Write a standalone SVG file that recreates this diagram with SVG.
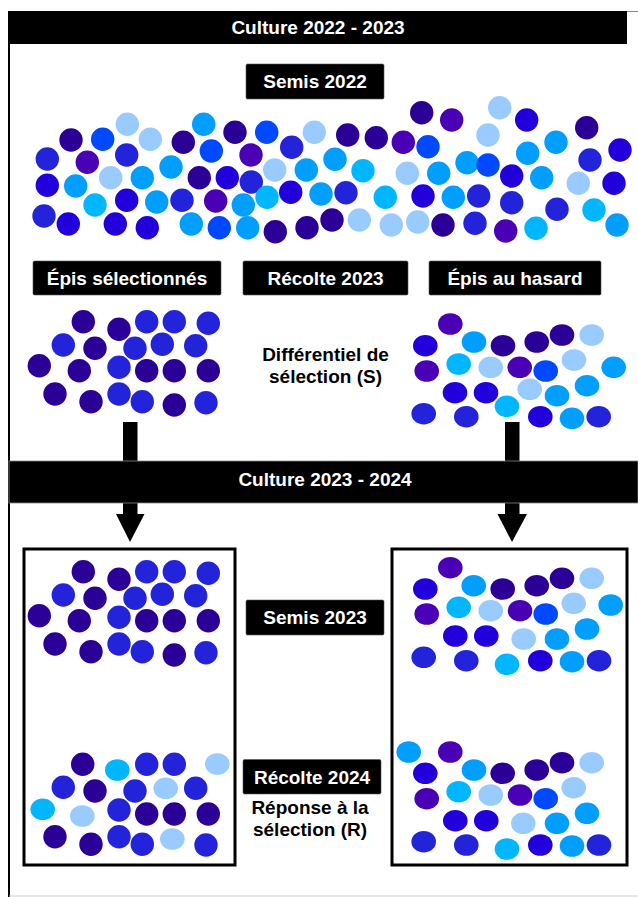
<svg xmlns="http://www.w3.org/2000/svg" width="638" height="897" viewBox="0 0 638 897">
<style>
.k{fill:#2b0096}.p{fill:#4a00b4}.v{fill:#2323da}.r{fill:#2100dc}.m{fill:#0049ff}.a{fill:#009fff}.c{fill:#00b7ff}.l{fill:#9acbff}
.t{font-family:"Liberation Sans",Arial,sans-serif;font-weight:bold;font-size:19px;text-anchor:middle}
.w{fill:#fff}.b{fill:#000}
.lab{fill:#000;stroke:#555;stroke-width:0.6}
.box{fill:none;stroke:#000;stroke-width:3}
</style>
<rect width="638" height="897" fill="#fff"/>
<g id="frame">
<line x1="9" y1="11" x2="9" y2="897" stroke="#000" stroke-width="2"/>
<line x1="9" y1="11.5" x2="638" y2="11.5" stroke="#888" stroke-width="1"/>
<line x1="9" y1="896" x2="638" y2="896" stroke="#ccc" stroke-width="1"/>
</g>
<g id="banner-2022-2023">
<rect x="9" y="11" width="618" height="33" fill="#000"/>
<text class="t w" x="318" y="34">Culture 2022 - 2023</text>
</g>
<g id="label-semis-2022">
<rect class="lab" x="246" y="64" width="138" height="35" rx="1.5"/>
<text class="t w" x="315" y="88">Semis 2022</text>
</g>
<g id="field-semis-2022">
<circle class="l" cx="127.3" cy="124.3" r="11.7"/>
<circle class="k" cx="71" cy="140" r="11.7"/>
<circle class="m" cx="102.7" cy="139.3" r="11.7"/>
<circle class="l" cx="150.3" cy="139.3" r="11.7"/>
<circle class="a" cx="203.7" cy="124.3" r="11.7"/>
<circle class="k" cx="183.3" cy="142.3" r="11.7"/>
<circle class="k" cx="235" cy="132.3" r="11.7"/>
<circle class="m" cx="266.7" cy="132.3" r="11.7"/>
<circle class="l" cx="314.3" cy="132.3" r="11.7"/>
<circle class="v" cx="47.3" cy="159" r="11.7"/>
<circle class="p" cx="87.3" cy="162.3" r="11.7"/>
<circle class="v" cx="126.7" cy="155" r="11.7"/>
<circle class="m" cx="211.3" cy="151" r="11.7"/>
<circle class="p" cx="251" cy="155" r="11.7"/>
<circle class="v" cx="291.7" cy="147.3" r="11.7"/>
<circle class="a" cx="171" cy="167" r="11.7"/>
<circle class="l" cx="110.7" cy="177.7" r="11.7"/>
<circle class="a" cx="142.3" cy="177.7" r="11.7"/>
<circle class="k" cx="199.3" cy="177.7" r="11.7"/>
<circle class="r" cx="227.3" cy="177.7" r="11.7"/>
<circle class="v" cx="251.3" cy="182" r="11.7"/>
<circle class="l" cx="274.7" cy="170" r="11.7"/>
<circle class="a" cx="306.3" cy="170" r="11.7"/>
<circle class="a" cx="335" cy="159.3" r="11.7"/>
<circle class="r" cx="47.3" cy="185.3" r="11.7"/>
<circle class="a" cx="75.7" cy="186" r="11.7"/>
<circle class="c" cx="95" cy="205" r="11.7"/>
<circle class="r" cx="126.7" cy="200.3" r="11.7"/>
<circle class="a" cx="156.7" cy="202" r="11.7"/>
<circle class="v" cx="182" cy="200.3" r="11.7"/>
<circle class="p" cx="215.7" cy="201" r="11.7"/>
<circle class="a" cx="243.3" cy="205" r="11.7"/>
<circle class="c" cx="267" cy="197.3" r="11.7"/>
<circle class="r" cx="290.7" cy="192.3" r="11.7"/>
<circle class="a" cx="321" cy="194" r="11.7"/>
<circle class="v" cx="44" cy="216" r="11.7"/>
<circle class="r" cx="68.3" cy="224" r="11.7"/>
<circle class="r" cx="115.3" cy="224" r="11.7"/>
<circle class="r" cx="147.3" cy="227.7" r="11.7"/>
<circle class="a" cx="191.3" cy="224" r="11.7"/>
<circle class="m" cx="219.3" cy="227.7" r="11.7"/>
<circle class="a" cx="247.7" cy="227.7" r="11.7"/>
<circle class="k" cx="275.3" cy="231.7" r="11.7"/>
<circle class="k" cx="307" cy="227.7" r="11.7"/>
<circle class="k" cx="332" cy="220" r="11.7"/>
<circle class="k" cx="421.7" cy="112.7" r="11.7"/>
<circle class="p" cx="451.7" cy="120" r="11.7"/>
<circle class="l" cx="499.7" cy="107.7" r="11.7"/>
<circle class="r" cx="526.7" cy="120" r="11.7"/>
<circle class="k" cx="586.7" cy="127.7" r="11.7"/>
<circle class="k" cx="347.7" cy="135" r="11.7"/>
<circle class="k" cx="376.3" cy="137.7" r="11.7"/>
<circle class="p" cx="403.3" cy="142.3" r="11.7"/>
<circle class="m" cx="428" cy="146.7" r="11.7"/>
<circle class="l" cx="488" cy="135" r="11.7"/>
<circle class="a" cx="556" cy="142.3" r="11.7"/>
<circle class="r" cx="620" cy="150" r="11.7"/>
<circle class="c" cx="363" cy="170.7" r="11.7"/>
<circle class="l" cx="407.3" cy="173.3" r="11.7"/>
<circle class="a" cx="438.7" cy="173.3" r="11.7"/>
<circle class="a" cx="467" cy="162.7" r="11.7"/>
<circle class="m" cx="488" cy="165" r="11.7"/>
<circle class="a" cx="527.7" cy="153.3" r="11.7"/>
<circle class="r" cx="511.7" cy="176" r="11.7"/>
<circle class="a" cx="541.7" cy="177.7" r="11.7"/>
<circle class="v" cx="590" cy="160" r="11.7"/>
<circle class="l" cx="578.3" cy="183.3" r="11.7"/>
<circle class="r" cx="614" cy="183.3" r="11.7"/>
<circle class="v" cx="346" cy="192.7" r="11.7"/>
<circle class="c" cx="385.3" cy="197.3" r="11.7"/>
<circle class="r" cx="423" cy="196" r="11.7"/>
<circle class="a" cx="453.3" cy="197.3" r="11.7"/>
<circle class="v" cx="478.7" cy="196" r="11.7"/>
<circle class="v" cx="511.7" cy="202.7" r="11.7"/>
<circle class="v" cx="557" cy="209.3" r="11.7"/>
<circle class="c" cx="594" cy="210" r="11.7"/>
<circle class="a" cx="617" cy="225" r="11.7"/>
<circle class="l" cx="359.3" cy="220" r="11.7"/>
<circle class="l" cx="391.3" cy="225" r="11.7"/>
<circle class="l" cx="417.7" cy="222" r="11.7"/>
<circle class="k" cx="443" cy="225" r="11.7"/>
<circle class="v" cx="475" cy="223.3" r="11.7"/>
<circle class="p" cx="505.7" cy="231" r="11.7"/>
<circle class="c" cx="536" cy="228.3" r="11.7"/>
</g>
<g id="label-epis-selectionnes">
<rect class="lab" x="33" y="261" width="188" height="34" rx="1.5"/>
<text class="t w" x="127" y="285">Épis sélectionnés</text>
</g>
<g id="label-recolte-2023">
<rect class="lab" x="243" y="261" width="165" height="34" rx="1.5"/>
<text class="t w" x="325.5" y="285">Récolte 2023</text>
</g>
<g id="label-epis-hasard">
<rect class="lab" x="429" y="261" width="172" height="34" rx="1.5"/>
<text class="t w" x="515" y="285">Épis au hasard</text>
</g>
<g id="cluster-selected">
<circle class="k" cx="83.3" cy="321.7" r="11.7"/>
<circle class="k" cx="119" cy="329.3" r="11.7"/>
<circle class="v" cx="146.7" cy="321.7" r="11.7"/>
<circle class="v" cx="174.3" cy="321.7" r="11.7"/>
<circle class="v" cx="208.3" cy="323.3" r="11.7"/>
<circle class="v" cx="63.3" cy="345" r="11.7"/>
<circle class="k" cx="95" cy="348.3" r="11.7"/>
<circle class="v" cx="135" cy="348.3" r="11.7"/>
<circle class="v" cx="162.3" cy="344.3" r="11.7"/>
<circle class="v" cx="195.7" cy="345.7" r="11.7"/>
<circle class="k" cx="39.3" cy="365.7" r="11.7"/>
<circle class="k" cx="79.3" cy="370.7" r="11.7"/>
<circle class="v" cx="119" cy="367.3" r="11.7"/>
<circle class="k" cx="146.7" cy="370.7" r="11.7"/>
<circle class="k" cx="174.3" cy="370.7" r="11.7"/>
<circle class="k" cx="208.3" cy="370.7" r="11.7"/>
<circle class="k" cx="55" cy="394" r="11.7"/>
<circle class="k" cx="91" cy="401.7" r="11.7"/>
<circle class="v" cx="119" cy="394" r="11.7"/>
<circle class="v" cx="142.3" cy="401.7" r="11.7"/>
<circle class="k" cx="174.3" cy="405" r="11.7"/>
<circle class="v" cx="206" cy="402.7" r="11.7"/>
</g>
<g id="text-differentiel">
<text class="t b" x="325.5" y="361">Différentiel de</text>
<text class="t b" x="325.5" y="383">sélection (S)</text>
</g>
<g id="cluster-random">
<ellipse class="p" cx="450.3" cy="324" rx="12.3" ry="10.8"/>
<ellipse class="r" cx="425.3" cy="345.7" rx="12.3" ry="10.8"/>
<ellipse class="a" cx="474" cy="342" rx="12.3" ry="10.8"/>
<ellipse class="k" cx="503" cy="345.7" rx="12.3" ry="10.8"/>
<ellipse class="k" cx="536.7" cy="342" rx="12.3" ry="10.8"/>
<ellipse class="k" cx="562" cy="335" rx="12.3" ry="10.8"/>
<ellipse class="l" cx="591.7" cy="335" rx="12.3" ry="10.8"/>
<ellipse class="p" cx="426.7" cy="371" rx="12.3" ry="10.8"/>
<ellipse class="c" cx="458.7" cy="364" rx="12.3" ry="10.8"/>
<ellipse class="l" cx="490.7" cy="367.3" rx="12.3" ry="10.8"/>
<ellipse class="p" cx="519.7" cy="367.3" rx="12.3" ry="10.8"/>
<ellipse class="m" cx="545.7" cy="371" rx="12.3" ry="10.8"/>
<ellipse class="l" cx="574" cy="360" rx="12.3" ry="10.8"/>
<ellipse class="a" cx="613.7" cy="367.3" rx="12.3" ry="10.8"/>
<ellipse class="r" cx="455" cy="392.7" rx="12.3" ry="10.8"/>
<ellipse class="r" cx="486" cy="392.7" rx="12.3" ry="10.8"/>
<ellipse class="l" cx="529.7" cy="389.3" rx="12.3" ry="10.8"/>
<ellipse class="a" cx="557" cy="395.7" rx="12.3" ry="10.8"/>
<ellipse class="a" cx="587" cy="385.7" rx="12.3" ry="10.8"/>
<ellipse class="c" cx="507" cy="406.3" rx="12.3" ry="10.8"/>
<ellipse class="v" cx="423.7" cy="413.7" rx="12.3" ry="10.8"/>
<ellipse class="v" cx="466.3" cy="416.7" rx="12.3" ry="10.8"/>
<ellipse class="r" cx="540.3" cy="416.7" rx="12.3" ry="10.8"/>
<ellipse class="a" cx="572" cy="418.3" rx="12.3" ry="10.8"/>
<ellipse class="v" cx="598.7" cy="416.7" rx="12.3" ry="10.8"/>
</g>
<g id="connectors">
<rect x="123" y="422" width="14.5" height="93" fill="#000"/>
<polygon points="116,514 144.5,514 130,542" fill="#000"/>
<rect x="505" y="422" width="14.5" height="93" fill="#000"/>
<polygon points="497.5,514 527,514 512,542" fill="#000"/>
</g>
<g id="banner-2023-2024">
<rect x="9" y="461" width="629" height="42" fill="#000" stroke="#888" stroke-width="0.8"/>
<text class="t w" x="325" y="486">Culture 2023 - 2024</text>
</g>
<g id="box-selected">
<rect class="box" x="24" y="549" width="211" height="316"/>
</g>
<g id="box-random">
<rect class="box" x="392" y="549" width="235" height="316"/>
</g>
<g id="cluster-selected-semis-2023">
<circle class="k" cx="83.3" cy="571.7" r="11.7"/>
<circle class="k" cx="119" cy="579.3" r="11.7"/>
<circle class="v" cx="146.7" cy="571.7" r="11.7"/>
<circle class="v" cx="174.3" cy="571.7" r="11.7"/>
<circle class="v" cx="208.3" cy="573.3" r="11.7"/>
<circle class="v" cx="63.3" cy="595" r="11.7"/>
<circle class="k" cx="95" cy="598.3" r="11.7"/>
<circle class="v" cx="135" cy="598.3" r="11.7"/>
<circle class="v" cx="162.3" cy="594.3" r="11.7"/>
<circle class="v" cx="195.7" cy="595.7" r="11.7"/>
<circle class="k" cx="39.3" cy="615.7" r="11.7"/>
<circle class="k" cx="79.3" cy="620.7" r="11.7"/>
<circle class="v" cx="119" cy="617.3" r="11.7"/>
<circle class="k" cx="146.7" cy="620.7" r="11.7"/>
<circle class="k" cx="174.3" cy="620.7" r="11.7"/>
<circle class="k" cx="208.3" cy="620.7" r="11.7"/>
<circle class="k" cx="55" cy="644" r="11.7"/>
<circle class="k" cx="91" cy="651.7" r="11.7"/>
<circle class="v" cx="119" cy="644" r="11.7"/>
<circle class="v" cx="142.3" cy="651.7" r="11.7"/>
<circle class="k" cx="174.3" cy="655" r="11.7"/>
<circle class="v" cx="206" cy="652.7" r="11.7"/>
</g>
<g id="cluster-selected-recolte-2024">
<circle class="k" cx="82.7" cy="764.3" r="11.7"/>
<ellipse class="c" cx="117.3" cy="770" rx="12.3" ry="10.8"/>
<circle class="v" cx="146.7" cy="764.3" r="11.7"/>
<circle class="v" cx="174.3" cy="764.3" r="11.7"/>
<ellipse class="l" cx="217.3" cy="764" rx="12.3" ry="10.8"/>
<circle class="v" cx="63.3" cy="787.3" r="11.7"/>
<circle class="k" cx="95" cy="791" r="11.7"/>
<circle class="v" cx="135" cy="791" r="11.7"/>
<ellipse class="l" cx="165.7" cy="788.3" rx="12.3" ry="10.8"/>
<circle class="v" cx="195.7" cy="788.3" r="11.7"/>
<ellipse class="c" cx="42.7" cy="809.3" rx="12.3" ry="10.8"/>
<ellipse class="l" cx="82.3" cy="816" rx="12.3" ry="10.8"/>
<circle class="v" cx="119" cy="810" r="11.7"/>
<circle class="k" cx="146.7" cy="814" r="11.7"/>
<circle class="k" cx="174.3" cy="814" r="11.7"/>
<circle class="k" cx="208.3" cy="814" r="11.7"/>
<circle class="k" cx="55" cy="836.7" r="11.7"/>
<circle class="k" cx="91" cy="844.3" r="11.7"/>
<circle class="v" cx="119" cy="836.7" r="11.7"/>
<circle class="v" cx="142.3" cy="844.3" r="11.7"/>
<ellipse class="l" cx="172.3" cy="839" rx="12.3" ry="10.8"/>
<circle class="v" cx="206" cy="845" r="11.7"/>
</g>
<g id="cluster-random-semis-2023">
<ellipse class="p" cx="450.3" cy="567.7" rx="12.3" ry="10.8"/>
<ellipse class="r" cx="425.3" cy="589" rx="12.3" ry="10.8"/>
<ellipse class="a" cx="473.7" cy="585.7" rx="12.3" ry="10.8"/>
<ellipse class="k" cx="502.7" cy="589" rx="12.3" ry="10.8"/>
<ellipse class="k" cx="536.7" cy="585.7" rx="12.3" ry="10.8"/>
<ellipse class="k" cx="562" cy="578.3" rx="12.3" ry="10.8"/>
<ellipse class="l" cx="591.7" cy="578.3" rx="12.3" ry="10.8"/>
<ellipse class="p" cx="426.7" cy="614" rx="12.3" ry="10.8"/>
<ellipse class="c" cx="458.7" cy="607.3" rx="12.3" ry="10.8"/>
<ellipse class="l" cx="490.7" cy="610.7" rx="12.3" ry="10.8"/>
<ellipse class="p" cx="520" cy="610.7" rx="12.3" ry="10.8"/>
<ellipse class="m" cx="545.7" cy="614" rx="12.3" ry="10.8"/>
<ellipse class="l" cx="573.7" cy="603.3" rx="12.3" ry="10.8"/>
<ellipse class="a" cx="610.7" cy="605" rx="12.3" ry="10.8"/>
<ellipse class="r" cx="455.3" cy="636" rx="12.3" ry="10.8"/>
<ellipse class="r" cx="486.3" cy="636" rx="12.3" ry="10.8"/>
<ellipse class="l" cx="523.7" cy="639" rx="12.3" ry="10.8"/>
<ellipse class="a" cx="557" cy="639" rx="12.3" ry="10.8"/>
<ellipse class="a" cx="587" cy="629" rx="12.3" ry="10.8"/>
<ellipse class="c" cx="507" cy="664.3" rx="12.3" ry="10.8"/>
<ellipse class="v" cx="423.7" cy="657.3" rx="12.3" ry="10.8"/>
<ellipse class="v" cx="466.3" cy="660.7" rx="12.3" ry="10.8"/>
<ellipse class="r" cx="540.3" cy="660.7" rx="12.3" ry="10.8"/>
<ellipse class="a" cx="572" cy="661.7" rx="12.3" ry="10.8"/>
<ellipse class="v" cx="599" cy="660.7" rx="12.3" ry="10.8"/>
</g>
<g id="cluster-random-recolte-2024">
<ellipse class="a" cx="408.7" cy="752" rx="12.3" ry="10.8"/>
<ellipse class="p" cx="450.3" cy="752" rx="12.3" ry="10.8"/>
<ellipse class="r" cx="425.3" cy="773.3" rx="12.3" ry="10.8"/>
<ellipse class="a" cx="474" cy="770" rx="12.3" ry="10.8"/>
<ellipse class="k" cx="502.7" cy="773.3" rx="12.3" ry="10.8"/>
<ellipse class="k" cx="536.7" cy="770" rx="12.3" ry="10.8"/>
<ellipse class="k" cx="562" cy="762.7" rx="12.3" ry="10.8"/>
<ellipse class="l" cx="591.7" cy="762.7" rx="12.3" ry="10.8"/>
<ellipse class="p" cx="426.7" cy="798.7" rx="12.3" ry="10.8"/>
<ellipse class="c" cx="458.7" cy="791.7" rx="12.3" ry="10.8"/>
<ellipse class="l" cx="490.7" cy="795" rx="12.3" ry="10.8"/>
<ellipse class="p" cx="520" cy="795" rx="12.3" ry="10.8"/>
<ellipse class="m" cx="545.7" cy="798.7" rx="12.3" ry="10.8"/>
<ellipse class="l" cx="573.7" cy="787.7" rx="12.3" ry="10.8"/>
<ellipse class="r" cx="455.3" cy="820.7" rx="12.3" ry="10.8"/>
<ellipse class="r" cx="486.3" cy="820.7" rx="12.3" ry="10.8"/>
<ellipse class="l" cx="523.3" cy="823.3" rx="12.3" ry="10.8"/>
<ellipse class="a" cx="557" cy="823.3" rx="12.3" ry="10.8"/>
<ellipse class="a" cx="587" cy="813.3" rx="12.3" ry="10.8"/>
<ellipse class="v" cx="423.7" cy="841.7" rx="12.3" ry="10.8"/>
<ellipse class="v" cx="466.3" cy="845" rx="12.3" ry="10.8"/>
<ellipse class="c" cx="507" cy="849" rx="12.3" ry="10.8"/>
<ellipse class="r" cx="540.3" cy="845" rx="12.3" ry="10.8"/>
<ellipse class="a" cx="572" cy="846" rx="12.3" ry="10.8"/>
<ellipse class="v" cx="599" cy="845" rx="12.3" ry="10.8"/>
</g>
<g id="label-semis-2023">
<rect class="lab" x="246" y="600" width="138" height="35" rx="1.5"/>
<text class="t w" x="315" y="624">Semis 2023</text>
</g>
<g id="label-recolte-2024">
<rect class="lab" x="243" y="759.5" width="138" height="34.5" rx="1.5"/>
<text class="t w" x="312" y="784">Récolte 2024</text>
</g>
<g id="text-reponse">
<text class="t b" x="310" y="814">Réponse à la</text>
<text class="t b" x="310" y="836">sélection (R)</text>
</g>
</svg>
